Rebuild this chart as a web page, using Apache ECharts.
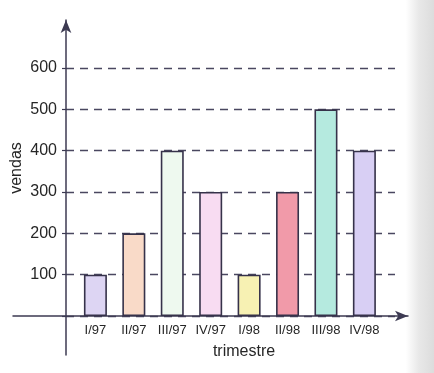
<!DOCTYPE html>
<html>
<head>
<meta charset="utf-8">
<script src="https://cdn.jsdelivr.net/npm/echarts@6/dist/echarts.min.js"></script>
<style>html,body{margin:0;padding:0;background:#fff}#c{width:434px;height:373px}</style>
</head>
<body>
<div id="c"></div>
<script>
var categories = ['I/97', 'II/97', 'III/97', 'IV/97', 'I/98', 'II/98', 'III/98', 'IV/98'];
var vendas = [100, 200, 400, 300, 100, 300, 500, 400];
var barColors = ['#ddd5f3', '#f9dac8', '#eef9ef', '#f8dcf2', '#f7f1b3', '#f19aa9', '#b5eadf', '#d8cff4'];
var yTicks = [0, 100, 200, 300, 400, 500, 600];

var FONT = 'Liberation Sans, Arial, sans-serif';
var AX = '#3c3a52';
var TXT = '#262626';

var chart = echarts.init(document.getElementById('c'), null, {renderer: 'canvas'});
chart.setOption({
  animation: false,
  backgroundColor: {
    type: 'linear', x: 0, y: 0, x2: 1, y2: 0,
    colorStops: [
      {offset: 0, color: '#ffffff'},
      {offset: 0.935, color: '#ffffff'},
      {offset: 0.965, color: '#e8e8e8'},
      {offset: 1, color: '#dcdcdc'}
    ]
  },
  textStyle: {fontFamily: FONT},
  grid: [
    {left: 76.2, right: 50.4, top: 68, bottom: 57},
    {left: 66, right: 39, top: 68, bottom: 57},
    {left: 13, right: 26, top: 20, bottom: 18}
  ],
  xAxis: [
    {
      gridIndex: 0, type: 'category', data: categories,
      axisLine: {show: false}, axisTick: {show: false},
      axisLabel: {color: TXT, fontSize: 13, margin: 8, fontFamily: FONT, interval: 0},
      splitLine: {show: false}
    },
    {gridIndex: 1, type: 'value', min: 0, max: 1, show: false},
    {
      gridIndex: 2, type: 'value', min: -53, max: 342,
      axisLine: {show: true, onZero: true, symbol: ['none', 'arrow'], symbolSize: [8, 13],
        lineStyle: {color: AX, width: 1.5}},
      axisTick: {show: false}, axisLabel: {show: false}, splitLine: {show: false}
    }
  ],
  yAxis: [
    {gridIndex: 0, type: 'value', min: 0, max: 600, show: false},
    {
      gridIndex: 1, type: 'value', min: 0, max: 600, interval: 100,
      axisLine: {show: false},
      axisTick: {show: true, length: 4, lineStyle: {color: AX, width: 1.2}},
      axisLabel: {
        color: TXT, fontSize: 16, margin: 9, fontFamily: FONT,
        formatter: function (v) { return yTicks.indexOf(v) > 0 ? String(v) : ''; }
      },
      splitLine: {show: true, lineStyle: {color: '#4a4760', width: 1.4, type: [8, 6]}}
    },
    {
      gridIndex: 2, type: 'value', min: -39, max: 296,
      axisLine: {show: true, onZero: true, symbol: ['none', 'arrow'], symbolSize: [8, 13],
        lineStyle: {color: AX, width: 1.5}},
      axisTick: {show: false}, axisLabel: {show: false}, splitLine: {show: false}
    }
  ],
  series: [
    {
      type: 'bar', xAxisIndex: 0, yAxisIndex: 0,
      barWidth: 23,
      data: vendas.map(function (v, i) {
        return {value: v, itemStyle: {color: barColors[i]}};
      }),
      itemStyle: {borderColor: '#36324a', borderWidth: 1.6},
      z: 3
    }
  ],
  graphic: [
    {
      type: 'text', x: 17, y: 168, rotation: Math.PI / 2,
      style: {text: 'vendas', fontSize: 16, fontFamily: FONT, fill: TXT,
        textAlign: 'center', textVerticalAlign: 'middle'}
    },
    {
      type: 'text', x: 244, y: 352,
      style: {text: 'trimestre', fontSize: 16, fontFamily: FONT, fill: TXT,
        textAlign: 'center', textVerticalAlign: 'middle'}
    }
  ]
});
</script>
</body>
</html>
